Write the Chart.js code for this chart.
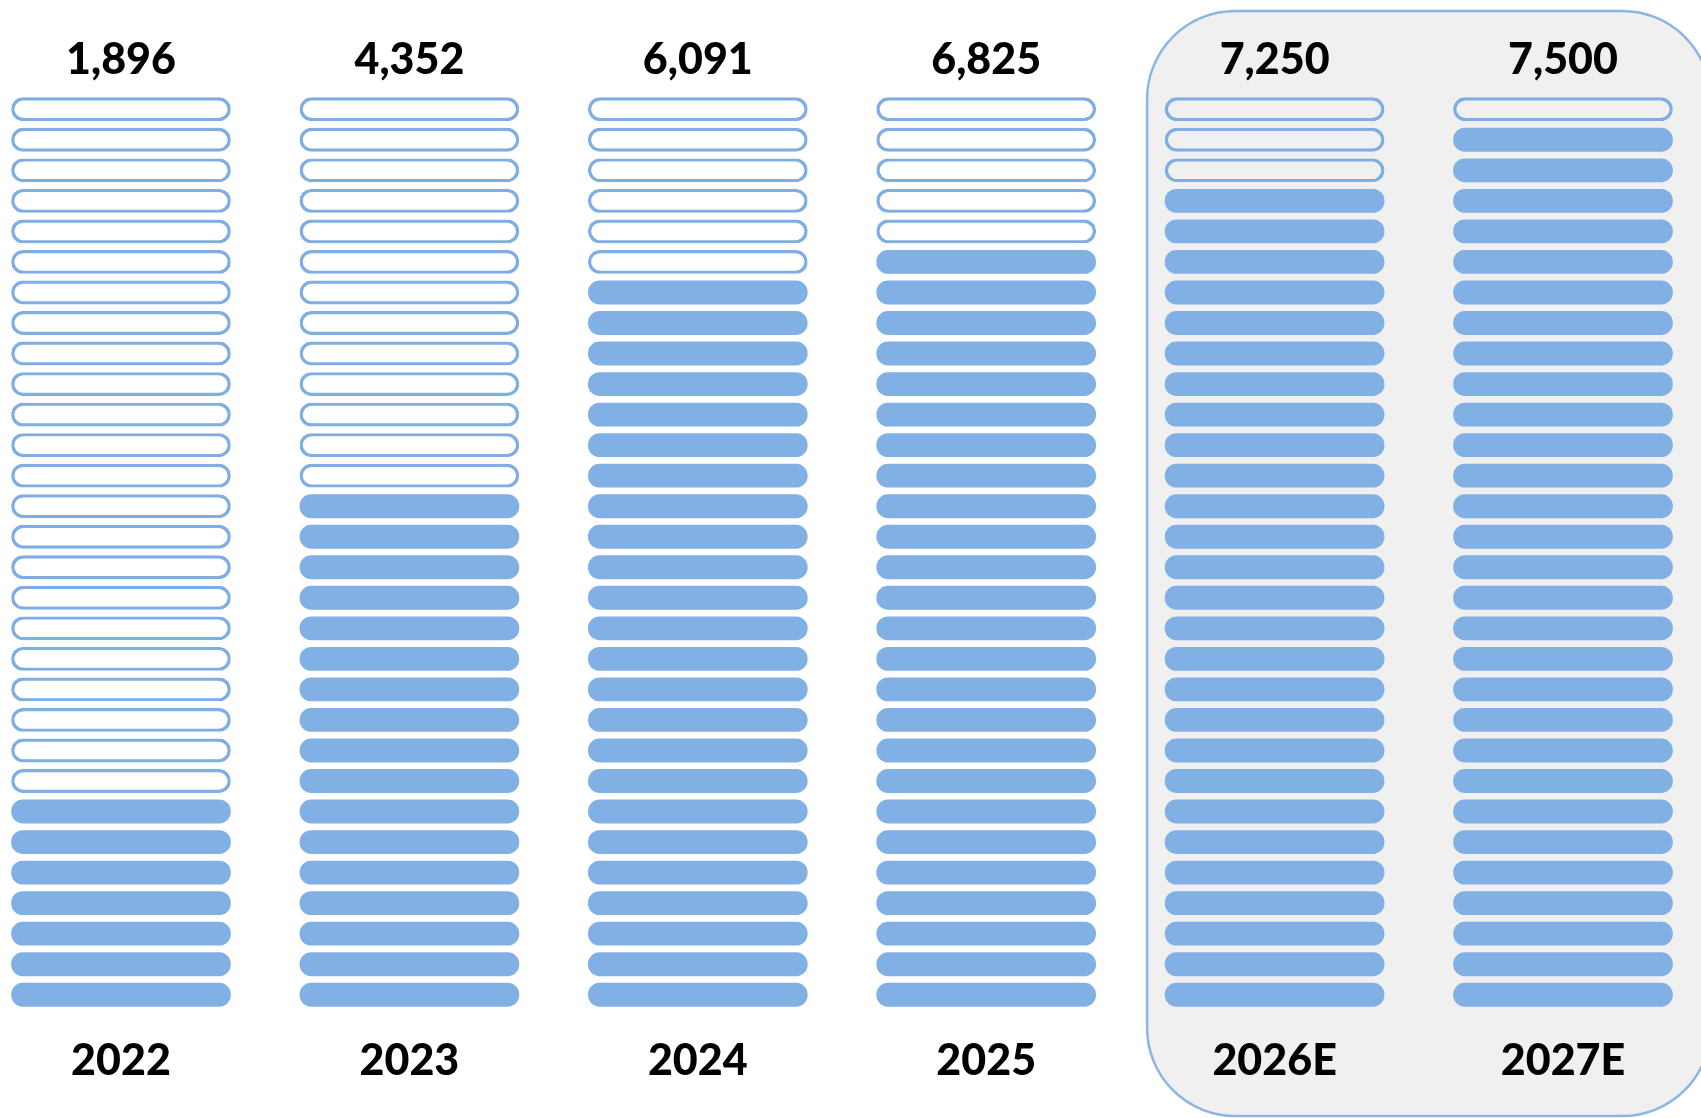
<!DOCTYPE html>
<html>
<head>
<meta charset="utf-8">
<title>Units by year</title>
<script src="https://cdn.jsdelivr.net/npm/chart.js@4/dist/chart.umd.min.js"></script>
<style>
	html, body { margin: 0; padding: 0; background: #fff; }
	#chart { display: block; }
</style>
</head>
<body>
<canvas id="chart" width="1701" height="1118"></canvas>
<script>
var years = ['2022', '2023', '2024', '2025', '2026E', '2027E'];
var totals = [1896, 4352, 6091, 6825, 7250, 7500];
var filledPills = [7, 17, 24, 25, 27, 29];
var pillsPerColumn = 30;
var estimateFrom = 4; // first estimated year (index into years)

var FILL = '#80b0e4';
var OUTLINE = '#7eaee3';
var PANEL_FILL = '#f0f0f0';
var PANEL_BORDER = '#8db5e4';
var LABEL_FONT = '900 43px Lato, "Open Sans", sans-serif';
var PILL_WIDTH = 219;
var PILL_GAP = 0.12;

// one dataset per pill row, each a floating bar [k + gap, k + 1 - gap]
var datasets = [];
for (var k = 0; k < pillsPerColumn; k++) {
	(function (row) {
		datasets.push({
			data: years.map(function () { return [row + PILL_GAP, row + 1 - PILL_GAP]; }),
			backgroundColor: function (ctx) {
				return row < filledPills[ctx.dataIndex] ? FILL : 'rgba(0,0,0,0)';
			},
			borderColor: OUTLINE,
			borderWidth: function (ctx) {
				return row < filledPills[ctx.dataIndex] ? 0 : 2.5;
			},
			clip: false
		});
	})(k);
}

// rounded panel behind the estimated years
var panelPlugin = {
	id: 'panel',
	beforeDatasetsDraw: function (chart) {
		var ctx = chart.ctx;
		var area = chart.chartArea;
		var x = chart.scales.x;
		var left = x.getPixelForValue(estimateFrom) - PILL_WIDTH / 2 - 18;
		var right = x.getPixelForValue(years.length - 1) + PILL_WIDTH / 2 + 38;
		var top = area.top - 83;
		var bottom = area.bottom + 106;
		ctx.save();
		ctx.beginPath();
		ctx.roundRect(left, top, right - left, bottom - top, 88);
		ctx.fillStyle = PANEL_FILL;
		ctx.fill();
		ctx.lineWidth = 2.5;
		ctx.strokeStyle = PANEL_BORDER;
		ctx.stroke();
		ctx.restore();
	}
};

// totals above each column, years below
var labelPlugin = {
	id: 'labels',
	afterDatasetsDraw: function (chart) {
		var ctx = chart.ctx;
		var area = chart.chartArea;
		var x = chart.scales.x;
		ctx.save();
		ctx.font = LABEL_FONT;
		ctx.fillStyle = '#000';
		ctx.textAlign = 'center';
		ctx.textBaseline = 'middle';
		years.forEach(function (year, i) {
			var cx = x.getPixelForValue(i);
			ctx.fillText(totals[i].toLocaleString('en-US'), cx, area.top - 34);
			ctx.fillText(year, cx, area.bottom + 51);
		});
		ctx.restore();
	}
};

new Chart(document.getElementById('chart'), {
	type: 'bar',
	data: { labels: years, datasets: datasets },
	options: {
		responsive: false,
		animation: false,
		layout: { padding: { left: 121, right: 138, top: 94, bottom: 108 } },
		datasets: {
			bar: {
				grouped: false,
				barThickness: PILL_WIDTH,
				borderRadius: 12,
				borderSkipped: false
			}
		},
		scales: {
			x: { display: false, offset: false },
			y: { display: false, min: 0, max: pillsPerColumn }
		},
		plugins: {
			legend: { display: false },
			tooltip: { enabled: false }
		}
	},
	plugins: [panelPlugin, labelPlugin]
});
</script>
</body>
</html>
